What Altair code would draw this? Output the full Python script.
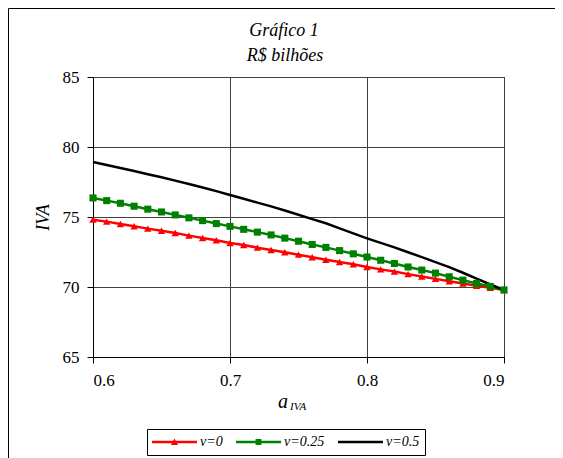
import altair as alt
import pandas as pd

# ---- data ----
a_iva = [0.60, 0.61, 0.62, 0.63, 0.64, 0.65, 0.66, 0.67, 0.68, 0.69,
         0.70, 0.71, 0.72, 0.73, 0.74, 0.75, 0.76, 0.77, 0.78, 0.79,
         0.80, 0.81, 0.82, 0.83, 0.84, 0.85, 0.86, 0.87, 0.88, 0.89, 0.90]

iva_v0 = [74.81, 74.67, 74.50, 74.34, 74.17, 74.02, 73.86, 73.67, 73.50, 73.34,
          73.14, 73.00, 72.81, 72.64, 72.48, 72.31, 72.12, 71.95, 71.79, 71.62,
          71.43, 71.26, 71.10, 70.92, 70.75, 70.58, 70.41, 70.25, 70.09, 69.94, 69.79]

iva_v025 = [76.36, 76.17, 75.98, 75.77, 75.56, 75.36, 75.15, 74.94, 74.74, 74.53,
            74.33, 74.12, 73.92, 73.72, 73.49, 73.27, 73.04, 72.83, 72.60, 72.37,
            72.14, 71.91, 71.68, 71.43, 71.21, 70.99, 70.73, 70.49, 70.25, 70.04, 69.79]

iva_v05 = [78.93, 78.72, 78.50, 78.28, 78.06, 77.84, 77.60, 77.36, 77.11, 76.85,
           76.57, 76.30, 76.03, 75.76, 75.46, 75.16, 74.85, 74.55, 74.19, 73.83,
           73.47, 73.15, 72.83, 72.48, 72.13, 71.78, 71.42, 71.02, 70.60, 70.18, 69.79]

series_names = ["v=0", "v=0.25", "v=0.5"]
series_colors = ["#FF0000", "#008000", "#000000"]
title_lines = ["Gráfico 1", "R$ bilhões"]
x_title = ["a", "IVA"]
y_title = "IVA"
x_ticks = [0.6, 0.7, 0.8, 0.9]
y_ticks = [65, 70, 75, 80, 85]

rows = []
for name, vals in zip(series_names, [iva_v0, iva_v025, iva_v05]):
    for xv, yv in zip(a_iva, vals):
        rows.append({"a": xv, "iva": yv, "serie": name})
df = pd.DataFrame(rows)

FONT = "Liberation Serif, DejaVu Serif, serif"
W, H = 411, 280

xenc = alt.X("a:Q", scale=alt.Scale(domain=[0.6, 0.9], nice=False, zero=False),
             axis=alt.Axis(values=x_ticks, format=".1f", title=None, grid=True,
                           labelPadding=9))
yenc = alt.Y("iva:Q", scale=alt.Scale(domain=[65, 85], nice=False, zero=False),
             axis=alt.Axis(values=y_ticks, title=y_title, grid=True,
                           labelPadding=8, titlePadding=10))

color_scale = alt.Scale(domain=series_names, range=series_colors)

# legend symbols: line (thin filled bar) + marker, as custom symbol paths
legend_paths = [
    "M-1,-0.055H1V0.055H-1ZM-0.16,0.13L0,-0.16L0.16,0.13Z",
    "M-1,-0.055H1V0.055H-1ZM-0.13,-0.13H0.13V0.13H-0.13Z",
    "M-1,-0.055H1V0.055H-1Z",
]

legend = alt.Legend(
    orient="none", legendX=54, legendY=352, direction="horizontal",
    title=None, strokeColor="black", padding=5, symbolSize=2025,
    clipHeight=16, labelFont=FONT, labelFontStyle="italic",
    labelFontSize=14, labelColor="black", columnPadding=13,
    labelOffset=3, symbolStrokeWidth=0,
)

# invisible carrier layer that only provides the legend
carrier = alt.Chart(df).mark_point(filled=True, size=1, opacity=1).encode(
    x=xenc, y=yenc,
    color=alt.Color("serie:N", scale=color_scale, legend=legend),
    shape=alt.Shape("serie:N", scale=alt.Scale(domain=series_names, range=legend_paths),
                    legend=legend),
)

lines = alt.Chart(df).mark_line(strokeWidth=2.5).encode(
    x=xenc, y=yenc,
    color=alt.Color("serie:N", scale=color_scale, legend=None),
)

pts_red = alt.Chart(df).transform_filter(alt.datum.serie == series_names[0]).mark_point(
    shape="triangle-up", filled=True, size=55, opacity=1
).encode(x=xenc, y=yenc, color=alt.Color("serie:N", scale=color_scale, legend=None))

pts_green = alt.Chart(df).transform_filter(alt.datum.serie == series_names[1]).mark_point(
    shape="square", filled=True, size=50, opacity=1
).encode(x=xenc, y=yenc, color=alt.Color("serie:N", scale=color_scale, legend=None))


def text_layer(txt, x, y, size, align="center"):
    return alt.Chart(pd.DataFrame({"t": [txt]})).mark_text(
        font=FONT, fontStyle="italic", fontSize=size, align=align,
        baseline="alphabetic", color="black"
    ).encode(x=alt.value(x), y=alt.value(y), text="t:N")

t1 = text_layer(title_lines[0], 191, -41, 18)
t2 = text_layer(title_lines[1], 192, -16, 18)
xa = text_layer(x_title[0], 185, 331, 20, align="left")
xb = text_layer(x_title[1], 197, 333, 11, align="left")

frame = alt.Chart(pd.DataFrame({"k": [0]})).mark_rect(
    fill="transparent", stroke="black", strokeWidth=1
).encode(x=alt.value(-84.5), x2=alt.value(700), y=alt.value(-68.5), y2=alt.value(700))

chart = alt.layer(frame, carrier, lines, pts_red, pts_green, t1, t2, xa, xb).properties(
    width=W, height=H,
    autosize=alt.AutoSizeParams(type="none"),
    padding={"left": 85, "top": 69, "right": 51, "bottom": 101},
    background="white",
).configure_view(stroke="black", strokeWidth=1).configure_axis(
    labelFont=FONT, labelFontSize=17, labelColor="black",
    tickColor="black", domainColor="black", tickSize=6,
    gridColor="#404040", gridWidth=1,
    titleFont=FONT, titleFontStyle="italic", titleFontSize=18,
    titleColor="black", titleFontWeight="normal",
)

chart.save("out.html", embed_options={"renderer": "svg", "actions": False})
